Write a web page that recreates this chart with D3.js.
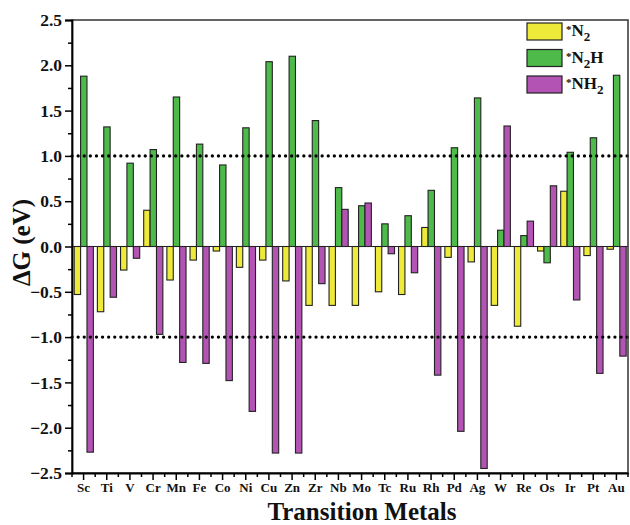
<!DOCTYPE html>
<html>
<head>
<meta charset="utf-8">
<script src="https://cdn.jsdelivr.net/npm/d3@7/dist/d3.min.js"></script>
<style>
body { margin: 0; background: #fff; }
text { font-family: "Liberation Serif", "Times New Roman", serif; font-weight: bold; }
</style>
</head>
<body>
<div id="grafica"></div>
<script>
// datos
var metals = ["Sc","Ti","V","Cr","Mn","Fe","Co","Ni","Cu","Zn","Zr","Nb","Mo","Tc","Ru","Rh","Pd","Ag","W","Re","Os","Ir","Pt","Au"];
var n2  = [-0.53,-0.72,-0.26,0.40,-0.37,-0.15,-0.05,-0.23,-0.15,-0.38,-0.65,-0.65,-0.65,-0.50,-0.53,0.21,-0.12,-0.17,-0.65,-0.88,-0.05,0.61,-0.10,-0.03];
var n2h = [1.88,1.32,0.92,1.07,1.65,1.13,0.90,1.31,2.04,2.10,1.39,0.65,0.45,0.25,0.34,0.62,1.09,1.64,0.18,0.12,-0.18,1.04,1.20,1.89];
var nh2 = [-2.27,-0.56,-0.13,-0.97,-1.28,-1.29,-1.48,-1.82,-2.28,-2.28,-0.41,0.41,0.48,-0.08,-0.29,-1.42,-2.04,-2.45,1.33,0.28,0.67,-0.59,-1.40,-1.21];
var seriesNames = ["N2","N2H","NH2"];
var colors = ["#eeea3a","#4dba4a","#b353b3"];
var yTicks = [-2.5,-2.0,-1.5,-1.0,-0.5,0.0,0.5,1.0,1.5,2.0,2.5];
var refLines = [1, -1];

// dimensiones
var margin = {top: 20, right: 2, bottom: 52, left: 72},
width = 630 - margin.left - margin.right,
height = 525 - margin.top - margin.bottom;

var svg = d3.select("#grafica")
.append("svg")
.attr("width", 630)
.attr("height", 525)
.append("g")
.attr("transform", "translate(" + margin.left + "," + margin.top + ")");

var x = d3.scaleBand().domain(metals).range([0, width]).padding(0);
var xs = d3.scaleBand().domain(seriesNames).range([2.2, x.bandwidth() - 1.8]).padding(0);
var y = d3.scaleLinear().domain([-2.5, 2.5]).range([height, 0]);

var rows = metals.map(function(m, i) {
  return {metal: m, vals: [n2[i], n2h[i], nh2[i]]};
});

// barras
var groups = svg.selectAll(".grp").data(rows).enter().append("g")
.attr("transform", function(d) { return "translate(" + x(d.metal) + ",0)"; });

groups.selectAll("rect")
.data(function(d) { return d.vals.map(function(v, j) { return {s: seriesNames[j], v: v, j: j}; }); })
.enter().append("rect")
.attr("x", function(d) { return xs(d.s); })
.attr("width", xs.bandwidth())
.attr("y", function(d) { return y(Math.max(0, d.v)); })
.attr("height", function(d) { return Math.abs(y(d.v) - y(0)); })
.attr("fill", function(d) { return colors[d.j]; })
.attr("stroke", "#222")
.attr("stroke-width", 1.1);

// lineas punteadas
svg.selectAll(".ref").data(refLines).enter().append("line")
.attr("x1", 0).attr("x2", width)
.attr("y1", function(d) { return y(d); })
.attr("y2", function(d) { return y(d); })
.attr("stroke", "#000")
.attr("stroke-width", 3.2)
.attr("stroke-linecap", "round")
.attr("stroke-dasharray", "0.1,6");

// zero line
svg.append("line")
.attr("x1", 0).attr("x2", width)
.attr("y1", y(0)).attr("y2", y(0))
.attr("stroke", "#222").attr("stroke-width", 1.2);

// marco
svg.append("rect")
.attr("width", width).attr("height", height)
.attr("fill", "none").attr("stroke", "#333").attr("stroke-width", 1.5);

// eje Y
var yAxis = svg.append("g")
.call(d3.axisLeft(y).tickValues(yTicks).tickFormat(d3.format(".1f")).tickSize(7).tickPadding(3));
yAxis.select(".domain").attr("stroke-width", 1.8);
yAxis.selectAll("line").attr("stroke-width", 1.5);
yAxis.selectAll("text").style("font-size", "17.5px").attr("fill", "#111");

var yMinor = d3.range(-2.25, 2.5, 0.5);
svg.append("g")
.call(d3.axisLeft(y).tickValues(yMinor).tickSize(4).tickFormat(""))
.call(function(g) { g.select(".domain").remove(); g.selectAll("line").attr("stroke-width", 1.5); });

// eje X
var xAxis = svg.append("g")
.attr("transform", "translate(0," + height + ")")
.call(d3.axisBottom(x).tickSize(7).tickPadding(3).tickSizeOuter(0));
xAxis.select(".domain").attr("stroke-width", 1.8);
xAxis.selectAll("line").attr("stroke-width", 1.5);
xAxis.selectAll("text").style("font-size", "13px").attr("fill", "#111");

// ticks menores entre categorias
var bounds = metals.map(function(m) { return x(m); }).concat([width]);
svg.append("g").selectAll("line").data(bounds).enter().append("line")
.attr("x1", function(d) { return d; }).attr("x2", function(d) { return d; })
.attr("y1", height).attr("y2", height + 4)
.attr("stroke", "#000").attr("stroke-width", 1.5);

// titulos
svg.append("text")
.attr("x", 290)
.attr("y", height + 46.5)
.attr("text-anchor", "middle")
.style("font-size", "25px")
.attr("fill", "#111")
.text("Transition Metals");

svg.append("text")
.attr("transform", "translate(" + (-42) + "," + (y(0) - 4) + ")rotate(-90)")
.attr("text-anchor", "middle")
.style("font-size", "25px")
.attr("fill", "#111")
.text("ΔG (eV)");

// leyenda
var legendLabels = [["*N", "2", ""], ["*N", "2", "H"], ["*NH", "2", ""]];
var leg = svg.selectAll(".leg").data(seriesNames).enter().append("g")
.attr("transform", function(d, i) { return "translate(" + (527 - margin.left) + "," + (3 + i * 26.5) + ")"; });
leg.append("rect")
.attr("width", 35).attr("height", 17)
.attr("fill", function(d, i) { return colors[i]; })
.attr("stroke", "#222").attr("stroke-width", 1.2);
var lt = leg.append("text")
.attr("x", 39).attr("y", 13)
.style("font-size", "17px")
.attr("fill", "#111");
lt.each(function(d, i) {
  var t = d3.select(this);
  var lab = legendLabels[i];
  t.append("tspan").style("font-size", "11px").attr("dy", -3).text("*");
  t.append("tspan").attr("dy", 3).text(lab[0].slice(1));
  t.append("tspan").style("font-size", "13px").attr("dy", 5).text(lab[1]);
  if (lab[2]) t.append("tspan").attr("dy", -5).text(lab[2]);
});
</script>
</body>
</html>
